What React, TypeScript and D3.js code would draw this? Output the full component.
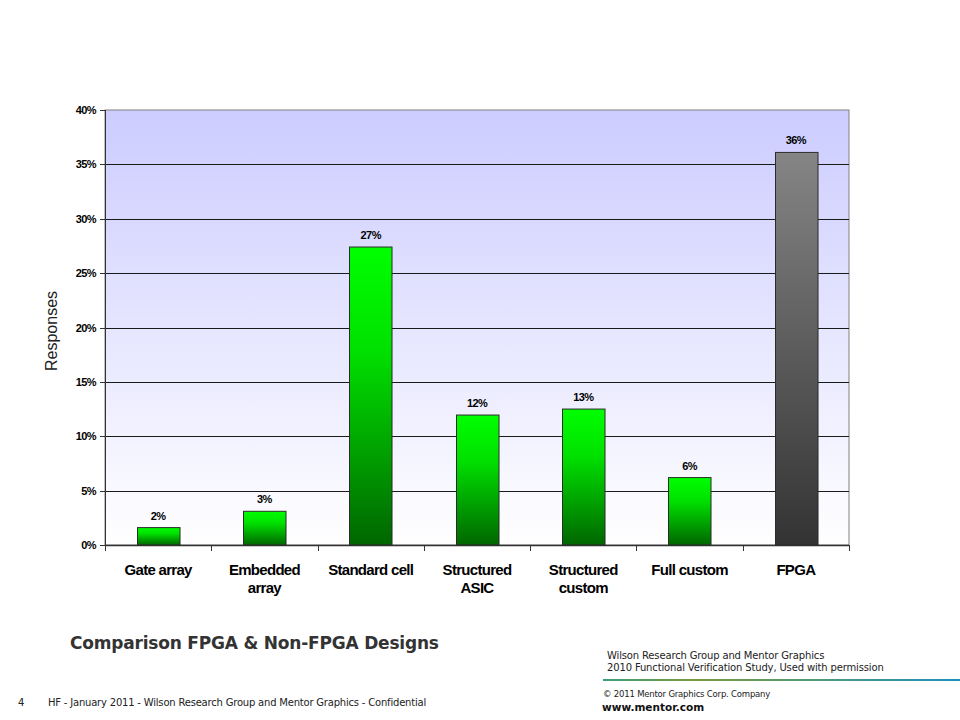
import React, { useEffect, useRef } from "react";
import * as d3 from "d3";

// chart values
const categories = [
  ["Gate array"],
  ["Embedded", "array"],
  ["Standard cell"],
  ["Structured", "ASIC"],
  ["Structured", "custom"],
  ["Full custom"],
  ["FPGA"],
];
const responses = [1.6, 3.1, 27.4, 11.95, 12.5, 6.2, 36.1];
const isFpga = [false, false, false, false, false, false, true];
const yTicks = [0, 5, 10, 15, 20, 25, 30, 35, 40];

const W = 960;
const H = 720;
const plot = { left: 105, right: 849, top: 110, bottom: 545 };

const tickFont = "'Liberation Sans', Arial, sans-serif";
const titleFont = "'DejaVu Sans', Tahoma, Verdana, sans-serif";

function App() {
  const ref = useRef<SVGSVGElement>(null);

  useEffect(() => {
    const svg = d3.select(ref.current);
    svg.selectAll("*").remove();

    const defs = svg.append("defs");
    const bg = defs.append("linearGradient").attr("id", "bg")
      .attr("x1", 0).attr("y1", 0).attr("x2", 0).attr("y2", 1);
    bg.append("stop").attr("offset", "0%").attr("stop-color", "#ccccff");
    bg.append("stop").attr("offset", "100%").attr("stop-color", "#ffffff");

    const green = defs.append("linearGradient").attr("id", "green")
      .attr("x1", 0).attr("y1", 0).attr("x2", 0).attr("y2", 1);
    green.append("stop").attr("offset", "0%").attr("stop-color", "#00ff00");
    green.append("stop").attr("offset", "35%").attr("stop-color", "#00e000");
    green.append("stop").attr("offset", "100%").attr("stop-color", "#006600");

    const gray = defs.append("linearGradient").attr("id", "gray")
      .attr("x1", 0).attr("y1", 0).attr("x2", 0).attr("y2", 1);
    gray.append("stop").attr("offset", "0%").attr("stop-color", "#858585");
    gray.append("stop").attr("offset", "100%").attr("stop-color", "#333333");

    const rule = defs.append("linearGradient").attr("id", "rule")
      .attr("x1", 0).attr("y1", 0).attr("x2", 1).attr("y2", 0);
    rule.append("stop").attr("offset", "0%").attr("stop-color", "#3a9e7e");
    rule.append("stop").attr("offset", "25%").attr("stop-color", "#7a9a3c");
    rule.append("stop").attr("offset", "60%").attr("stop-color", "#4f9a78");
    rule.append("stop").attr("offset", "100%").attr("stop-color", "#1a8fc2");

    const x = d3.scaleBand<number>()
      .domain(d3.range(categories.length))
      .range([plot.left, plot.right])
      .paddingInner(0.6)
      .paddingOuter(0.3);
    const step = x.step();
    const y = d3.scaleLinear().domain([0, 40]).range([plot.bottom, plot.top]);

    // plot background
    svg.append("rect")
      .attr("x", plot.left).attr("y", plot.top)
      .attr("width", plot.right - plot.left).attr("height", plot.bottom - plot.top)
      .attr("fill", "url(#bg)")
      .attr("stroke", "#808080").attr("stroke-width", 1);

    // gridlines
    svg.append("g").selectAll("line")
      .data(yTicks.filter(t => t > 0 && t < 40))
      .join("line")
      .attr("x1", plot.left).attr("x2", plot.right)
      .attr("y1", d => Math.round(y(d)) + 0.5).attr("y2", d => Math.round(y(d)) + 0.5)
      .attr("stroke", "#1a1a1a");

    // y axis
    const ya = svg.append("g");
    ya.append("line")
      .attr("x1", plot.left + 0.5).attr("x2", plot.left + 0.5)
      .attr("y1", plot.top).attr("y2", plot.bottom)
      .attr("stroke", "#333");
    ya.selectAll("line.t").data(yTicks).join("line").attr("class", "t")
      .attr("x1", plot.left - 5).attr("x2", plot.left)
      .attr("y1", d => Math.round(y(d)) + 0.5).attr("y2", d => Math.round(y(d)) + 0.5)
      .attr("stroke", "#333");
    ya.selectAll("text").data(yTicks).join("text")
      .attr("x", plot.left - 9).attr("y", d => y(d) + 4)
      .attr("text-anchor", "end")
      .attr("font-family", tickFont).attr("font-weight", "bold")
      .attr("font-size", 11).attr("letter-spacing", -0.6)
      .text(d => d + "%");

    // x axis
    const xa = svg.append("g");
    xa.append("line")
      .attr("x1", plot.left).attr("x2", plot.right)
      .attr("y1", plot.bottom + 0.5).attr("y2", plot.bottom + 0.5)
      .attr("stroke", "#333").attr("stroke-width", 1.5);
    xa.selectAll("line.t").data(d3.range(categories.length + 1)).join("line").attr("class", "t")
      .attr("x1", i => Math.round(plot.left + i * step) + 0.5)
      .attr("x2", i => Math.round(plot.left + i * step) + 0.5)
      .attr("y1", plot.bottom).attr("y2", plot.bottom + 6)
      .attr("stroke", "#333");
    const lab = xa.selectAll("text").data(categories).join("text")
      .attr("text-anchor", "middle")
      .attr("font-family", tickFont).attr("font-weight", "bold")
      .attr("font-size", 15).attr("letter-spacing", -0.7)
      .attr("fill", "#000");
    lab.selectAll("tspan").data((d, i) => d.map(s => ({ s, i }))).join("tspan")
      .attr("x", d => plot.left + (d.i + 0.5) * step)
      .attr("y", (d, j) => 575 + j * 18)
      .text(d => d.s);

    // bars
    svg.append("g").selectAll("rect")
      .data(responses)
      .join("rect")
      .attr("x", (d, i) => Math.round(x(i)!) + 0.5)
      .attr("y", d => y(d))
      .attr("width", x.bandwidth())
      .attr("height", d => plot.bottom - y(d))
      .attr("fill", (d, i) => (isFpga[i] ? "url(#gray)" : "url(#green)"))
      .attr("stroke", "#2b2b2b").attr("stroke-width", 1);

    svg.append("g").selectAll("text")
      .data(responses)
      .join("text")
      .attr("x", (d, i) => x(i)! + x.bandwidth() / 2)
      .attr("y", d => y(d) - 8)
      .attr("text-anchor", "middle")
      .attr("font-family", tickFont).attr("font-weight", "bold")
      .attr("font-size", 11).attr("letter-spacing", -0.6)
      .text(d => Math.round(d) + "%");

    // axis title
    svg.append("text")
      .attr("transform", "translate(57,331) rotate(-90)")
      .attr("text-anchor", "middle")
      .attr("font-family", "'Liberation Sans', Arial, sans-serif")
      .attr("font-size", 16).attr("fill", "#222")
      .text("Responses");

    // slide title and footer
    svg.append("text")
      .attr("x", 70).attr("y", 649)
      .attr("font-family", titleFont).attr("font-weight", "bold")
      .attr("font-size", 17).attr("fill", "#333").attr("letter-spacing", -0.2)
      .text("Comparison FPGA & Non-FPGA Designs");

    const foot = svg.append("g")
      .attr("font-family", titleFont).attr("fill", "#222");
    foot.append("text").attr("x", 18).attr("y", 706).attr("font-size", 10).text("4");
    foot.append("text").attr("x", 48).attr("y", 706).attr("font-size", 10)
      .attr("letter-spacing", -0.2)
      .text("HF - January 2011 - Wilson Research Group and Mentor Graphics - Confidential");
    foot.append("text").attr("x", 607).attr("y", 659).attr("font-size", 10)
      .attr("letter-spacing", -0.15)
      .text("Wilson Research Group and Mentor Graphics");
    foot.append("text").attr("x", 607).attr("y", 671).attr("font-size", 10)
      .attr("letter-spacing", -0.15)
      .text("2010 Functional Verification Study,  Used with permission");
    svg.append("rect")
      .attr("x", 603).attr("y", 679).attr("width", W - 603).attr("height", 2)
      .attr("fill", "url(#rule)");
    foot.append("text").attr("x", 603).attr("y", 697).attr("font-size", 8.5)
      .attr("letter-spacing", -0.2)
      .text("© 2011 Mentor Graphics Corp. Company");
    foot.append("text").attr("x", 602).attr("y", 711).attr("font-size", 10.5)
      .attr("font-weight", "bold").attr("fill", "#111")
      .text("www.mentor.com");
  }, []);

  return (
    <svg
      ref={ref}
      width={W}
      height={H}
      style={{ position: "absolute", left: 0, top: 0, background: "#fff" }}
    />
  );
}

export default App;
